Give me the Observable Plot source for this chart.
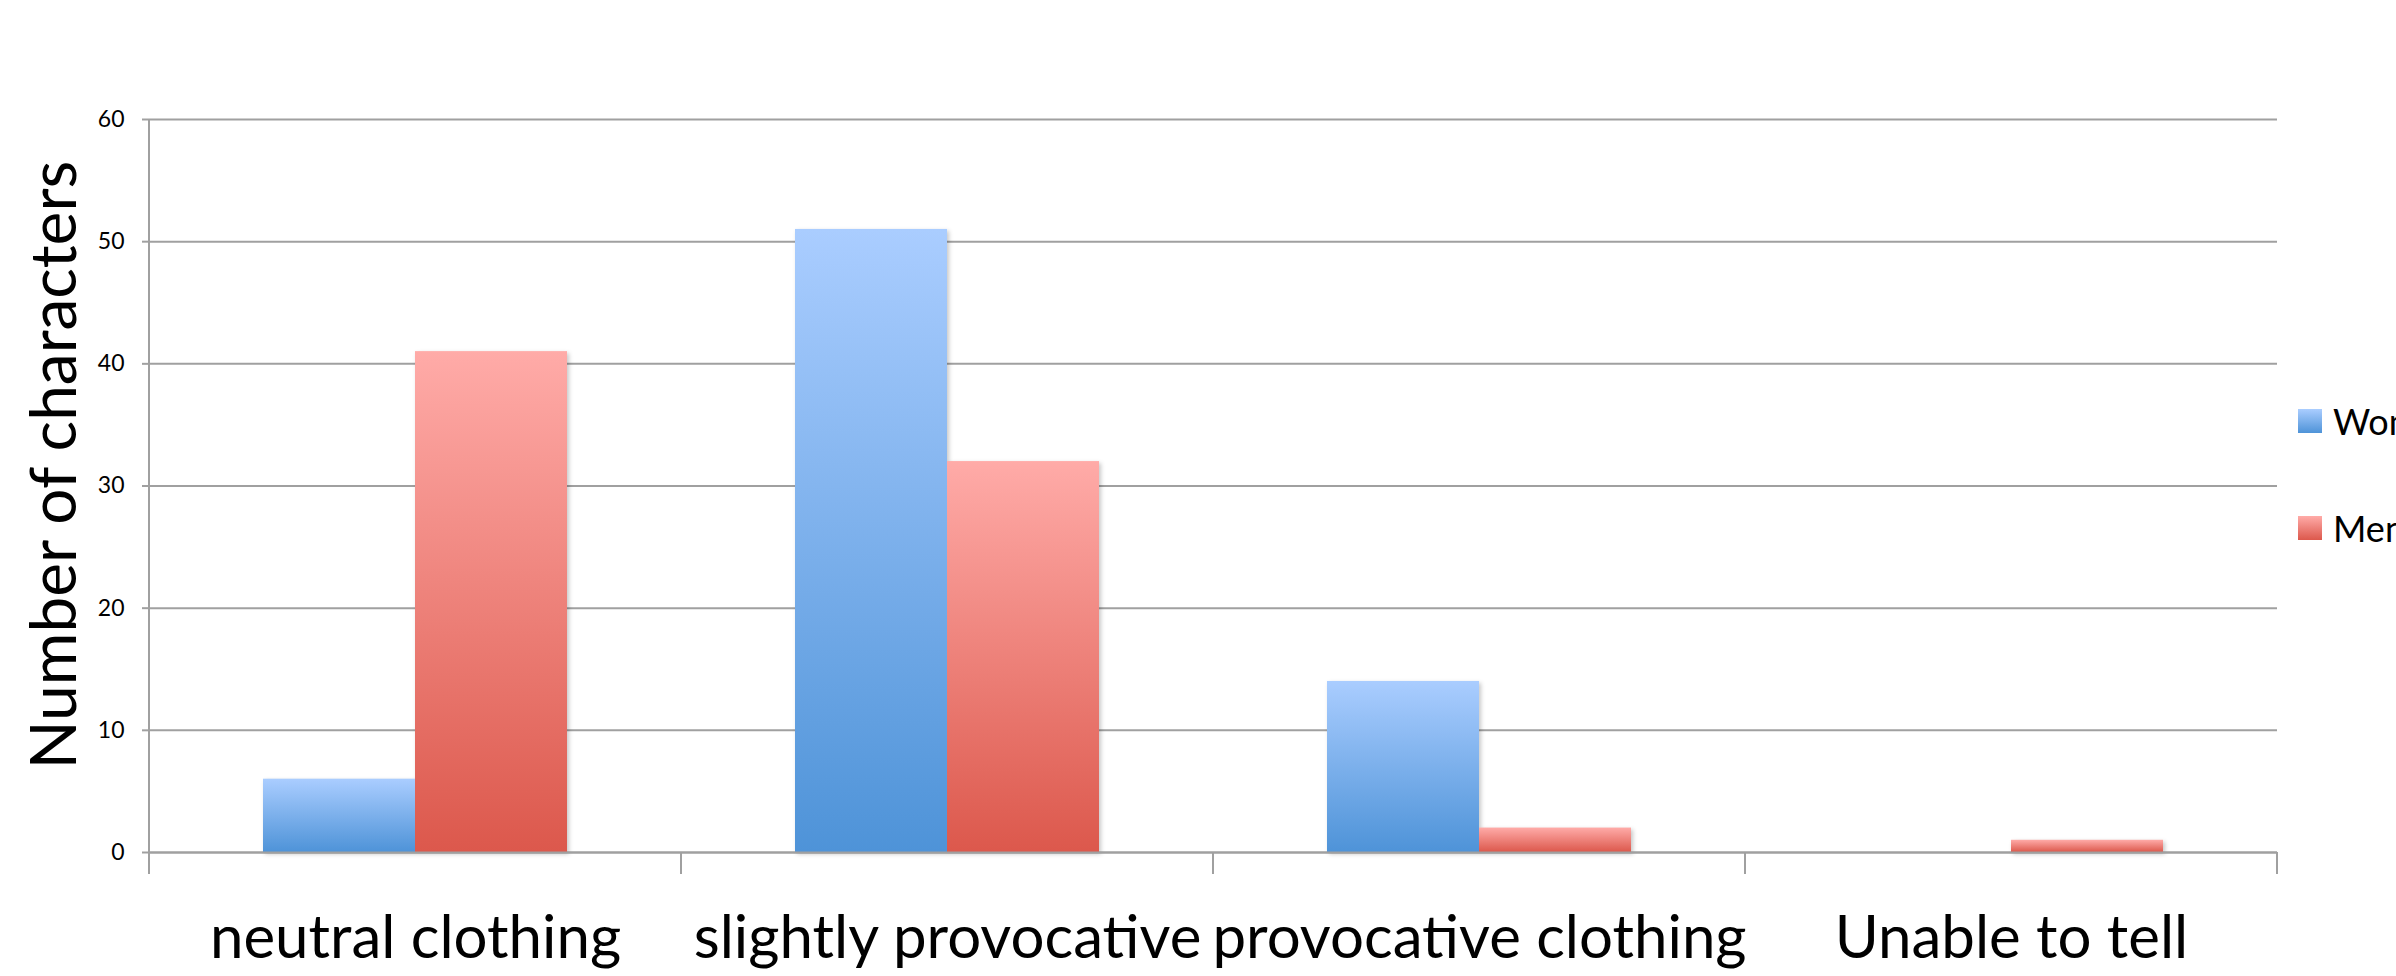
<!DOCTYPE html>
<html>
<head>
<meta charset="utf-8">
<script src="https://cdn.jsdelivr.net/npm/d3@7"></script>
<script src="https://cdn.jsdelivr.net/npm/@observablehq/plot@0.6"></script>
<style>
  html, body { margin: 0; padding: 0; background: #fff; overflow: hidden; }
  #chart { position: relative; width: 2396px; height: 976px; overflow: hidden; }
  .legend { position: absolute; left: 2298px; top: 0; font-family: Lato, "Open Sans", sans-serif; font-size: 36px; color: #000; white-space: nowrap; }
  .legend .item { position: absolute; left: 0; display: flex; align-items: center; height: 24px; }
  .legend .sw { width: 24px; height: 24px; margin-right: 11px; flex: none; }
</style>
</head>
<body>
<div id="chart"></div>
<script>
// Clothing categories on the horizontal axis
const categories = ["neutral clothing", "slightly provocative", "provocative clothing", "Unable to tell"];
// Series shown side by side in each category
const series = ["Women", "Men"];
// Number of characters per category
const women = [6, 51, 14, 0];
const men = [41, 32, 2, 1];
// Vertical axis ticks
const yTicks = [0, 10, 20, 30, 40, 50, 60];

// Gradient stops (top, bottom) for each series
const gradients = {
  Women: ["#aacdff", "#4e93d8"],
  Men: ["#ffaba8", "#dc584c"]
};

const rows = categories.flatMap((category, i) => [
  {category, sex: "Women", count: women[i]},
  {category, sex: "Men", count: men[i]}
]);

const gridColor = "#a0a0a0";
const font = "Lato, 'Open Sans', sans-serif";

const plot = Plot.plot({
  width: 2396,
  height: 976,
  marginLeft: 148,
  marginRight: 119,
  marginTop: 119,
  marginBottom: 124,
  style: {fontFamily: font, background: "white", color: "black"},
  fx: {domain: categories, padding: 0, label: null},
  x: {domain: series, paddingInner: 0, paddingOuter: 0.74, axis: null},
  y: {domain: [0, 60], label: null},
  color: {domain: series, range: series.map((s) => `url(#grad-${s})`)},
  marks: [
    Plot.gridY(yTicks, {stroke: gridColor, strokeOpacity: 1, strokeWidth: 2}),
    Plot.barY(rows.filter((d) => d.count > 0), {fx: "category", x: "sex", y: "count", fill: "sex"}),
    Plot.ruleY([0], {stroke: gridColor, strokeWidth: 2}),
    Plot.axisY(yTicks, {tickSize: 7, tickPadding: 18, fontSize: 23, stroke: gridColor, strokeWidth: 2, color: "black", label: null}),
    Plot.axisY({ticks: [], label: "Number of characters", labelAnchor: "center", labelArrow: "none", labelOffset: 119, fontSize: 64, color: "black"}),
    Plot.axisFx({anchor: "bottom", tickSize: 0, tickPadding: 63, fontSize: 60, label: null, color: "black"})
  ]
});

const svg = d3.select(plot);

// Lift the axis title slightly above the frame's centre
svg.selectAll("g[aria-label='y-axis label'] text").attr("dx", 21);

// Vertical gradients used to fill each series' bars
const defs = svg.insert("defs", ":first-child");
for (const s of series) {
  const g = defs.append("linearGradient").attr("id", `grad-${s}`).attr("x1", 0).attr("y1", 0).attr("x2", 0).attr("y2", 1);
  g.append("stop").attr("offset", "0%").attr("stop-color", gradients[s][0]);
  g.append("stop").attr("offset", "100%").attr("stop-color", gradients[s][1]);
}
svg.selectAll("g[aria-label='bar']").style("filter", "drop-shadow(2px 2px 2px rgba(0,0,0,0.22))");

// Category separators below the baseline and the vertical axis line
const fx = plot.scale("fx");
const y = plot.scale("y");
const y0 = y.apply(0);
const tickDown = 22;
const bounds = categories.map((c) => fx.apply(c)).concat([fx.apply(categories[categories.length - 1]) + fx.bandwidth]);
const lines = svg.append("g").attr("stroke", gridColor).attr("stroke-width", 2);
lines.selectAll("line.sep").data(bounds.slice(1)).join("line")
  .attr("x1", (d) => d).attr("x2", (d) => d).attr("y1", y0).attr("y2", y0 + tickDown);
lines.append("line")
  .attr("x1", bounds[0]).attr("x2", bounds[0]).attr("y1", y.apply(60)).attr("y2", y0 + tickDown);

const chart = document.getElementById("chart");
chart.appendChild(plot);

// Legend on the right edge
const legend = document.createElement("div");
legend.className = "legend";
const legendTops = {Women: 409, Men: 516};
for (const s of series) {
  const item = document.createElement("div");
  item.className = "item";
  item.style.top = legendTops[s] + "px";
  const sw = document.createElement("div");
  sw.className = "sw";
  sw.style.background = `linear-gradient(${gradients[s][0]}, ${gradients[s][1]})`;
  const label = document.createElement("span");
  label.textContent = s;
  item.appendChild(sw);
  item.appendChild(label);
  legend.appendChild(item);
}
chart.appendChild(legend);
</script>
</body>
</html>
